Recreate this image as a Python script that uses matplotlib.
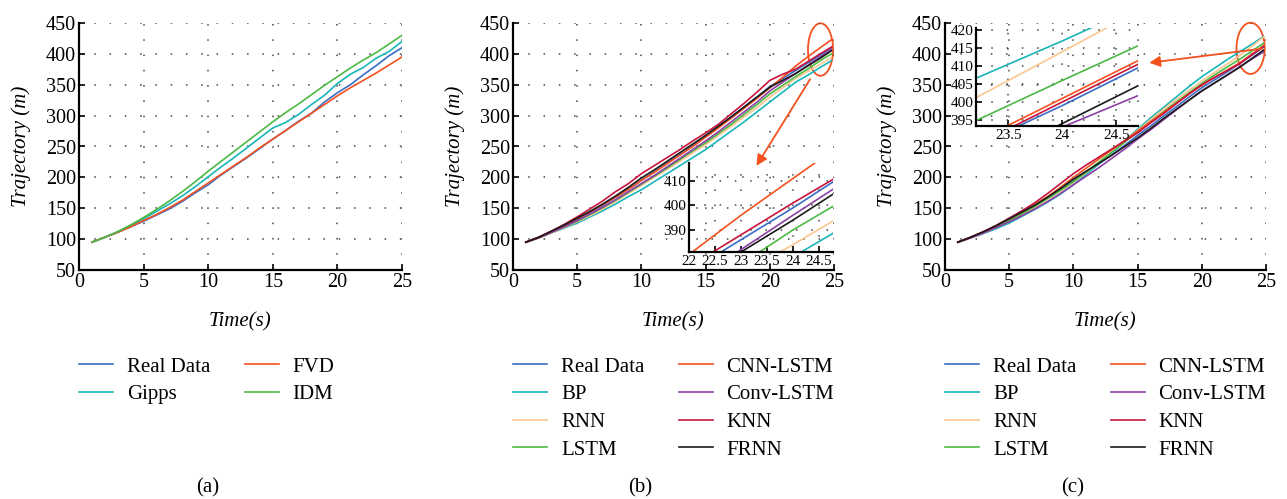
"""
  Trajetorias: modelos classicos e modelos de aprendizado.
"""
import matplotlib.pyplot as plt
from matplotlib.patches import Ellipse

plt.rcParams['font.family'] = ['Liberation Serif', 'DejaVu Serif']

# ---- dados (a) ----
t_a = list(range(1, 26))
real_a = [95, 103, 111, 120, 129, 139, 149, 161, 175, 188, 204, 218, 232, 247, 262,
          276, 291, 304, 322, 337, 350, 366, 381, 397, 410]
gipps_a = [95, 103, 112, 122, 133, 145, 157, 170, 185, 201, 217, 232, 248, 264, 280,
           289, 302, 318, 333, 352, 367, 378, 393, 404, 420]
fvd_a = [95, 103, 111, 120, 130, 140, 151, 163, 177, 191, 205, 219, 233, 248, 262,
         276, 290, 304, 318, 332, 345, 357, 369, 382, 395]
idm_a = [95, 103, 112, 123, 135, 148, 162, 177, 193, 210, 226, 242, 258, 274, 290,
         305, 319, 334, 349, 363, 377, 390, 402, 416, 430]

# ---- dados (b) e (c) ----
t_bc = list(range(1, 25)) + [24.8]
real_b = [95, 103, 112, 121, 132, 143, 155, 168, 181, 195, 209, 223, 237, 251, 266,
          282, 298, 314, 330, 347, 360, 373, 386, 399, 410]
bp_b = [95, 102, 110, 118, 126, 136, 146, 157, 169, 180, 193, 206, 219, 232, 245,
        260, 275, 290, 306, 322, 338, 354, 366, 379, 389]
rnn_b = [95, 102, 110, 119, 128, 138, 149, 161, 174, 187, 200, 213, 226, 240, 253,
         268, 283, 298, 313, 330, 345, 360, 372, 384, 394]
lstm_b = [95, 102, 111, 120, 129, 140, 151, 163, 176, 189, 202, 215, 229, 243, 256,
          271, 286, 302, 318, 335, 349, 363, 376, 390, 400]
cnn_b = [95, 103, 112, 122, 133, 144, 156, 168, 181, 195, 208, 222, 236, 250, 265,
         280, 296, 312, 328, 345, 362, 380, 396, 411, 423]
conv_b = [95, 102, 111, 120, 130, 141, 152, 164, 177, 190, 203, 217, 231, 245, 259,
          274, 290, 306, 322, 340, 354, 368, 382, 396, 407]
knn_b = [95, 103, 113, 124, 136, 149, 162, 177, 190, 206, 219, 232, 245, 259, 272,
         286, 303, 320, 338, 357, 367, 375, 388, 401, 411]
frnn_b = [95, 103, 113, 123, 134, 145, 157, 170, 184, 199, 212, 226, 240, 254, 268,
          283, 298, 314, 330, 346, 357, 368, 381, 394, 405]

real_c = [95, 103, 111, 121, 131, 142, 154, 166, 180, 194, 208, 222, 237, 252, 268,
          283, 299, 314, 330, 345, 358, 371, 385, 399, 411]
bp_c = [95, 102, 109, 117, 126, 137, 148, 160, 173, 188, 205, 222, 240, 259, 278,
        296, 313, 330, 347, 363, 377, 391, 404, 417, 428]
rnn_c = [95, 102, 110, 119, 129, 140, 152, 165, 178, 192, 208, 224, 241, 258, 276,
         293, 310, 326, 341, 356, 370, 384, 398, 414, 427]
lstm_c = [95, 103, 111, 120, 130, 141, 153, 166, 179, 193, 209, 225, 241, 257, 274,
          290, 306, 322, 337, 352, 366, 379, 392, 406, 417]
cnn_c = [95, 103, 112, 122, 133, 144, 156, 169, 184, 200, 215, 230, 245, 260, 275,
         290, 305, 320, 335, 349, 362, 374, 386, 401, 413]
conv_c = [95, 102, 110, 119, 128, 138, 149, 161, 174, 188, 202, 216, 231, 246, 262,
          277, 293, 309, 325, 340, 353, 366, 380, 393, 403]
knn_c = [95, 103, 112, 122, 134, 146, 159, 174, 190, 206, 220, 233, 246, 259, 272,
         288, 303, 319, 335, 350, 362, 373, 385, 400, 412]
frnn_c = [95, 103, 112, 122, 133, 144, 155, 168, 182, 197, 210, 223, 236, 250, 264,
          279, 295, 310, 325, 340, 353, 366, 379, 394, 406]

cores = {
  'Real Data': '#3a6cc6', 'Gipps': '#19b5b8', 'FVD': '#f4511e', 'IDM': '#4cb944',
  'BP': '#19b5b8', 'RNN': '#fcc690', 'LSTM': '#4cb944', 'CNN-LSTM': '#f4511e',
  'Conv-LSTM': '#8e3fa6', 'KNN': '#c8143c', 'FRNN': '#1a1a1a',
}
vermelho = '#f4511e'

W, H = 1287, 499
fig = plt.figure(figsize=(W / 100, H / 100), dpi=100)


def eixo(px):
  """
    Cria um eixo a partir de (esquerda, topo, direita, base) em pixels.
  """
  l, t, r, b = px
  return fig.add_axes([l / W, (H - b) / H, (r - l) / W, (b - t) / H])


def estilo(ax, fs):
  ax.spines['top'].set_visible(False)
  ax.spines['right'].set_visible(False)
  for s in ('left', 'bottom'):
    ax.spines[s].set_linewidth(1.6)
  ax.tick_params(direction='in', length=4, width=1.2, labelsize=fs, pad=2)
  ax.grid(True, linestyle=(0, (1, 9)), color='#444444', linewidth=1.1)
  ax.set_facecolor('none')


def principal(ax, t, series, letra, xc):
  for nome, y in series:
    ax.plot(t, y, color=cores[nome], lw=1.2, label=nome)
  ax.set_xlim(0, 25)
  ax.set_ylim(50, 450)
  ax.set_xticks(range(0, 26, 5))
  ax.set_yticks(range(50, 451, 50))
  estilo(ax, 14.5)
  ax.set_ylabel('Trajectory (m)', fontsize=15, style='italic', labelpad=11)
  ax.set_xlabel('Time(s)', fontsize=15, style='italic', labelpad=15)
  hs, ls = ax.get_legend_handles_labels()
  fig.legend(hs, ls, ncol=2,
             loc='upper left', bbox_to_anchor=(ax.get_position().x0, (H - 357) / H),
             frameon=False, fontsize=15, handlelength=1.65, handletextpad=0.65,
             columnspacing=1.65, labelspacing=0.39, borderpad=0, borderaxespad=0)
  fig.text(xc / W, (H - 488) / H, letra, ha='center', va='center', fontsize=15)


def inset(px, t, series, xlim, ylim, xt, yt, fs):
  ax = eixo(px)
  for nome, y in series:
    ax.plot(t, y, color=cores[nome], lw=1.2)
  ax.set_xlim(*xlim)
  ax.set_ylim(*ylim)
  ax.set_xticks(xt)
  ax.set_xticklabels([('%g' % v) for v in xt])
  ax.set_yticks(yt)
  estilo(ax, fs)
  return ax


# ---- (a) ----
ax_a = eixo((79, 23, 402, 270))
principal(ax_a, t_a, [('Real Data', real_a), ('Gipps', gipps_a),
                      ('FVD', fvd_a), ('IDM', idm_a)], '(a)', 208)

# ---- (b) ----
series_b = [('Real Data', real_b), ('BP', bp_b), ('RNN', rnn_b), ('LSTM', lstm_b),
            ('CNN-LSTM', cnn_b), ('Conv-LSTM', conv_b), ('KNN', knn_b), ('FRNN', frnn_b)]
ax_b = eixo((513, 23, 834, 270))
principal(ax_b, t_bc, series_b, '(b)', 640)
ax_b.add_patch(Ellipse((23.95, 407), 1.95, 85, fill=False, ec=vermelho, lw=1.3, clip_on=False))
ax_b.annotate('', xy=(18.85, 215), xytext=(23.26, 363), annotation_clip=False,
              arrowprops=dict(arrowstyle='-|>', color=vermelho, lw=1.3, mutation_scale=16))
inset((689, 163, 833, 252), t_bc, series_b, (22, 24.77), (381, 417.3),
      [22, 22.5, 23, 23.5, 24, 24.5], [390, 400, 410], 11)

# ---- (c) ----
series_c = [('Real Data', real_c), ('BP', bp_c), ('RNN', rnn_c), ('LSTM', lstm_c),
            ('CNN-LSTM', cnn_c), ('Conv-LSTM', conv_c), ('KNN', knn_c), ('FRNN', frnn_c)]
ax_c = eixo((945, 23, 1266, 270))
principal(ax_c, t_bc, series_c, '(c)', 1073)
ax_c.add_patch(Ellipse((23.8, 409), 2.2, 83, fill=False, ec=vermelho, lw=1.3, clip_on=False))
ax_c.annotate('', xy=(15.7, 385), xytext=(24.9, 409), annotation_clip=False,
              arrowprops=dict(arrowstyle='-|>', color=vermelho, lw=1.3, mutation_scale=16))
inset((976, 28, 1138, 126), t_bc, series_c, (23.2, 24.7), (393.3, 420.6),
      [23.5, 24, 24.5], [395, 400, 405, 410, 415, 420], 11)

fig.savefig('out.png', dpi=100)
